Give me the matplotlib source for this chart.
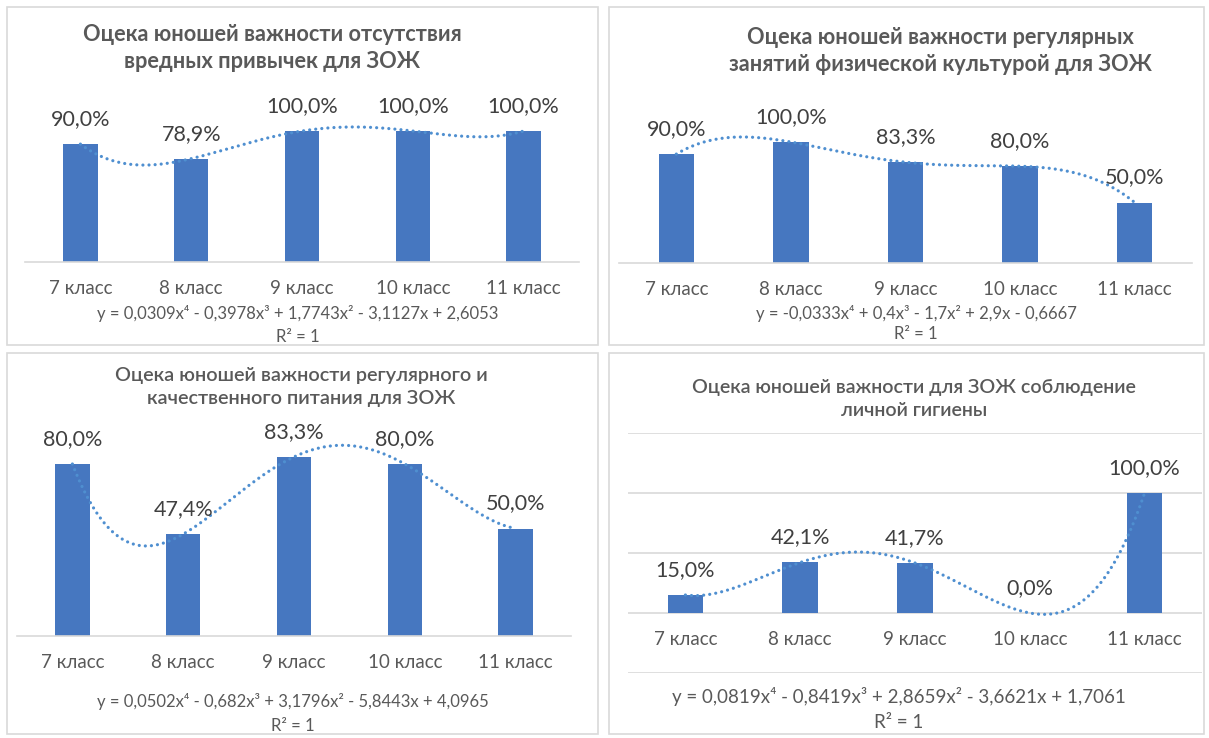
import matplotlib
matplotlib.use("Agg")
import matplotlib.pyplot as plt
import numpy as np
from matplotlib.patches import Rectangle

plt.rcParams['font.family'] = ['Lato', 'DejaVu Sans']

# ---- данные ----
classes = ['7 класс', '8 класс', '9 класс', '10 класс', '11 класс']

habits = [0.900, 0.789, 1.000, 1.000, 1.000]
sport = [0.900, 1.000, 0.833, 0.800, 0.500]
food = [0.800, 0.474, 0.833, 0.800, 0.500]
hygiene = [0.150, 0.421, 0.417, 0.000, 1.000]

titles = [
    'Оцека юношей важности отсутствия\nвредных привычек для ЗОЖ',
    'Оцека юношей важности регулярных\nзанятий физической культурой для ЗОЖ',
    'Оцека юношей важности регулярного и\nкачественного питания для ЗОЖ',
    'Оцека юношей важности для ЗОЖ соблюдение\nличной гигиены',
]
equations = [
    'y = 0,0309x⁴ - 0,3978x³ + 1,7743x² - 3,1127x + 2,6053',
    'y = -0,0333x⁴ + 0,4x³ - 1,7x² + 2,9x - 0,6667',
    'y = 0,0502x⁴ - 0,682x³ + 3,1796x² - 5,8443x + 4,0965',
    'y = 0,0819x⁴ - 0,8419x³ + 2,8659x² - 3,6621x + 1,7061',
]
r2_text = 'R² = 1'

W, H = 1209, 738
BAR = '#4677c0'
TREND = '#4f8fd0'
GRAY = '#595959'
DARK = '#404040'

fig = plt.figure(figsize=(W / 100, H / 100), dpi=100)


def fx(x):
    return x / W


def fy(y):
    return 1 - y / H


# рамки панелей
for (x0, y0, x1, y1) in [(7, 7, 598, 345), (609, 7, 1204, 345),
                         (7, 353, 598, 734), (609, 353, 1204, 734)]:
    fig.patches.append(Rectangle((fx(x0), fy(y1)), fx(x1 - x0), (y1 - y0) / H,
                                 transform=fig.transFigure, fill=False,
                                 edgecolor='#d9d9d9', linewidth=1.2))


def panel(vals, title, eq, x0, x1, base, ppu, ytop, ybot, title_pos, eq_pos,
          title_size=15.7, title_weight='bold', eq_size=12, grid=False):
    ax = fig.add_axes([fx(x0), fy(ybot), (x1 - x0) / W, (ybot - ytop) / H])
    ax.set_xlim(-0.5, len(vals) - 0.5)
    ax.set_ylim((base - ybot) / ppu, (base - ytop) / ppu)
    idx = np.arange(len(vals))
    ax.bar(idx, vals, width=0.31, color=BAR, zorder=2)

    # полиномиальный тренд 4-й степени (как в Excel)
    coef = np.polyfit(idx + 1, vals, 4)
    xs = np.linspace(1, len(vals), 400)
    ax.plot(xs - 1, np.polyval(coef, xs), color=TREND, lw=2.3,
            linestyle=(0, (0.01, 1.9)), dash_capstyle='round', zorder=3,
            clip_on=False)

    for i, v in zip(idx, vals):
        ax.annotate(f'{v * 100:.1f}%'.replace('.', ','), (i, v),
                    xytext=(0, 18), textcoords='offset points',
                    ha='center', va='center', fontsize=15.5, color=DARK)

    for s in ['top', 'right', 'left']:
        ax.spines[s].set_visible(False)
    ax.spines['bottom'].set_position(('data', 0))
    ax.spines['bottom'].set_color('#d9d9d9')
    ax.spines['bottom'].set_linewidth(1.2)
    ax.set_yticks([])
    ax.set_xticks(idx)
    ax.set_xticklabels(classes, fontsize=13.5, color=GRAY)
    ax.tick_params(axis='x', length=0, pad=13)
    ax.patch.set_visible(False)

    if grid:
        ax.set_yticks([-0.5, 0, 0.5, 1.0, 1.5])
        ax.set_yticklabels([])
        ax.tick_params(axis='y', length=0)
        ax.grid(axis='y', color='#d9d9d9', linewidth=1.2, zorder=0)
        ax.spines['bottom'].set_visible(False)

    fig.text(fx(title_pos[0]), fy(title_pos[1]), title, ha='center', va='center',
             fontsize=title_size, fontweight=title_weight, color=GRAY,
             linespacing=1.4)
    fig.text(fx(eq_pos[0]), fy(eq_pos[1]), eq, ha='center', va='center',
             fontsize=eq_size, color=GRAY)
    fig.text(fx(eq_pos[0]), fy(eq_pos[1] + eq_pos[2]), r2_text, ha='center',
             va='center', fontsize=eq_size, color=GRAY)
    return ax


panel(habits, titles[0], equations[0], 25, 579, 262, 131, 90, 262,
      (272, 48), (298, 314, 23))
panel(sport, titles[1], equations[1], 619, 1192, 263, 121, 95, 263,
      (940, 51), (916, 313, 21))
panel(food, titles[2], equations[2], 17, 571, 636, 215, 430, 636,
      (301, 387), (293, 702, 24), title_size=14.3, title_weight='semibold')
panel(hygiene, titles[3], equations[3], 628, 1202, 613, 120, 433, 673,
      (914, 399), (899, 696, 26), title_size=14.1, title_weight='semibold',
      eq_size=13.5, grid=True)

plt.savefig('out.png', dpi=100)
